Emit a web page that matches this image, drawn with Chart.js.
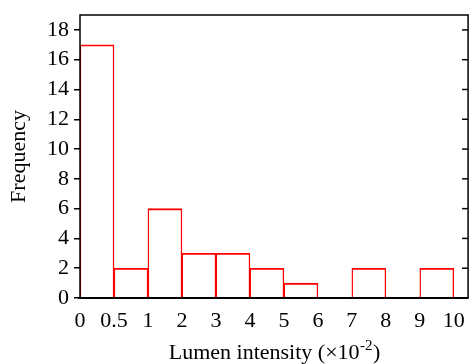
<!DOCTYPE html>
<html>
<head>
<meta charset="utf-8">
<script src="https://cdn.jsdelivr.net/npm/chart.js@4/dist/chart.umd.min.js"></script>
<style>
  html, body { margin: 0; padding: 0; background: #fff; }
  #wrap { width: 475px; height: 364px; }
</style>
</head>
<body>
<div id="wrap"><canvas id="hist"></canvas></div>
<script>
// bin edges as printed under the axis, one per bin boundary
var binLabels = ['0', '0.5', '1', '2', '3', '4', '5', '6', '7', '8', '9', '10'];
var frequencies = [17, 2, 6, 3, 3, 2, 1, 0, 2, 0, 2];
var yTickValues = [0, 2, 4, 6, 8, 10, 12, 14, 16, 18];

var FONT = 'Liberation Serif';

var points = [];
for (var i = 0; i < frequencies.length; i++) {
  points.push({ x: i + 0.5, y: frequencies[i] });
}

// frame + inward ticks on the right side + x title with superscript
var framePlugin = {
  id: 'frame',
  afterDraw: function(chart) {
    var ctx = chart.ctx, a = chart.chartArea;
    var ys = chart.scales.y;
    ctx.save();
    ctx.strokeStyle = '#000';
    ctx.lineWidth = 1.5;
    ctx.strokeRect(a.left, a.top, a.right - a.left, a.bottom - a.top);
    ctx.lineWidth = 2;
    ctx.beginPath();
    ctx.moveTo(a.left - 2, a.bottom);
    ctx.lineTo(a.right, a.bottom);
    ctx.stroke();
    ctx.lineWidth = 1.5;
    yTickValues.forEach(function(v) {
      var py = ys.getPixelForValue(v);
      ctx.beginPath();
      ctx.moveTo(a.right, py);
      ctx.lineTo(a.right - 6, py);
      ctx.stroke();
    });

    // x axis title
    var main = 'Lumen intensity (\u00d710';
    var sup = '-2';
    var tail = ')';
    ctx.fillStyle = '#000';
    ctx.textBaseline = 'alphabetic';
    ctx.font = '22px "' + FONT + '"';
    var w1 = ctx.measureText(main).width;
    var w3 = ctx.measureText(tail).width;
    ctx.font = '15px "' + FONT + '"';
    var w2 = ctx.measureText(sup).width;
    var x0 = (a.left + a.right) / 2 - (w1 + w2 + w3) / 2;
    var base = 359;
    ctx.font = '22px "' + FONT + '"';
    ctx.fillText(main, x0, base);
    ctx.font = '15px "' + FONT + '"';
    ctx.fillText(sup, x0 + w1 + 0.5, base - 9);
    ctx.font = '22px "' + FONT + '"';
    ctx.fillText(tail, x0 + w1 + w2 + 1, base);
    ctx.restore();
  }
};

new Chart(document.getElementById('hist'), {
  type: 'bar',
  data: {
    datasets: [{
      data: points,
      backgroundColor: 'rgba(0,0,0,0)',
      borderColor: '#ff0000',
      borderWidth: { top: 1.2, left: 0.75, right: 0.75, bottom: 0 },
      borderSkipped: false,
      barPercentage: 1,
      categoryPercentage: 1
    }]
  },
  options: {
    responsive: true,
    maintainAspectRatio: false,
    animation: false,
    layout: { padding: { top: 15, right: 5, left: 0, bottom: 0 } },
    plugins: { legend: { display: false }, tooltip: { enabled: false } },
    scales: {
      x: {
        type: 'linear',
        offset: false,
        min: 0,
        max: 11.42,
        afterBuildTicks: function(scale) {
          scale.ticks = binLabels.map(function(_, i) { return { value: i }; });
        },
        afterFit: function(scale) { scale.height = 66; },
        ticks: {
          autoSkip: false,
          maxRotation: 0,
          padding: 10,
          color: '#000',
          font: { family: FONT, size: 22 },
          callback: function(v) { return binLabels[v]; }
        },
        grid: { drawOnChartArea: false, drawTicks: false, tickLength: 0 },
        border: { display: false }
      },
      y: {
        min: 0,
        max: 19,
        afterBuildTicks: function(scale) {
          scale.ticks = yTickValues.map(function(v) { return { value: v }; });
        },
        afterFit: function(scale) {
          scale.width = 80;
          scale.paddingTop = 0;
          scale.paddingBottom = 0;
        },
        ticks: {
          padding: 5,
          color: '#000',
          font: { family: FONT, size: 22 }
        },
        grid: { drawOnChartArea: false, tickLength: 6, color: '#000', lineWidth: 1.5 },
        border: { display: false },
        title: {
          display: true,
          text: 'Frequency',
          color: '#000',
          padding: { top: 6, bottom: 0 },
          font: { family: FONT, size: 22 }
        }
      }
    }
  },
  plugins: [framePlugin]
});
</script>
</body>
</html>
